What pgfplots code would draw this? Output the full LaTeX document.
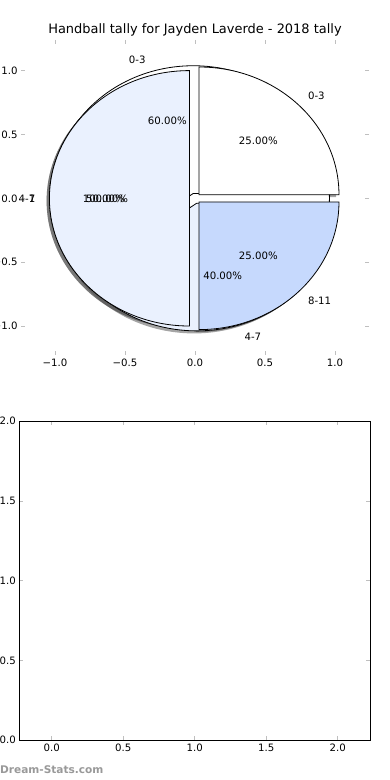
\documentclass[border=0pt]{standalone}
\usepackage{fontspec}
\setmainfont{DejaVu Sans}
\usepackage{pgfplots}
\pgfplotsset{compat=1.18}
\definecolor{pieblue}{HTML}{C6D9FD}
\definecolor{pielight}{HTML}{EAF1FE}
\definecolor{shadowc}{rgb}{0.3,0.3,0.3}
\definecolor{tickc}{HTML}{BFBFBF}
\newcommand{\wedgepath}[4]{(axis cs:#1,#2) -- ++(#3:140bp and 127.7bp) arc[start angle=#3, end angle=#4, x radius=140bp, y radius=127.7bp] -- cycle}
\begin{document}
\begin{tikzpicture}
\useasboundingbox (0,0) rectangle (390bp,780bp);
\clip (0,0) rectangle (390bp,780bp);
\pgfplotsset{
 mpl/.style={
  font=\fontsize{10.2}{12}\selectfont,
  enlargelimits=false,
  tick align=inside,
  major tick length=4bp,
  tick style={draw=tickc, line width=0.8bp},
  /pgf/number format/assume math mode=true,
 }
}
% ---------------- top (pie) axis ----------------
\begin{axis}[mpl, at={(21bp,425bp)}, anchor=south west,
  x=140bp, y=127.7bp,
  xmin=-1.243, xmax=1.243, ymin=-1.227, ymax=1.24,
  axis line style={draw=none}, clip=false,
  xtick={-1,-0.5,0,0.5,1}, xticklabels={−1.0,−0.5,0.0,0.5,1.0},
  ytick={-1,-0.5,0,0.5,1}, yticklabels={−1.0,−0.5,0.0,0.5,1.0}]
% shadows (offset -0.02,-0.02)
\fill[shadowc, opacity=0.5] (axis cs:-0.06,-0.02) ellipse [x radius=140bp, y radius=127.7bp];
\fill[shadowc, opacity=0.5] \wedgepath{-0.03236}{0.01804}{0}{216};
\fill[shadowc, opacity=0.5] \wedgepath{-0.00764}{-0.05804}{216}{360};
\fill[shadowc, opacity=0.5] \wedgepath{0.00828}{0.00828}{0}{90};
\fill[shadowc, opacity=0.5] \wedgepath{0.00828}{-0.04828}{270}{360};
\fill[shadowc, opacity=0.5] \wedgepath{-0.06}{-0.02}{90}{270};
% pie 3: single 100% wedge
\filldraw[fill=white, draw=black, line width=0.8bp] (axis cs:-0.04,0) ellipse [x radius=140bp, y radius=127.7bp];
% pie 2: 60% / 40%
\filldraw[fill=white, draw=black, line width=0.8bp] \wedgepath{-0.01236}{0.03804}{0}{216};
\filldraw[fill=pielight, draw=black, line width=0.8bp] \wedgepath{0.01236}{-0.03804}{216}{360};
% pie 1: 25% / 25% / 50%
\filldraw[fill=white, draw=black, line width=0.8bp] \wedgepath{0.02828}{0.02828}{0}{90};
\filldraw[fill=pieblue, draw=black, line width=0.8bp] \wedgepath{0.02828}{-0.02828}{270}{360};
\filldraw[fill=pielight, draw=black, line width=0.8bp] \wedgepath{-0.04}{0}{90}{270};
% labels pie 3
\node[anchor=east, inner sep=0pt] at (axis cs:-1.14,0) {1};
\node[inner sep=0pt] at (axis cs:-0.64,0) {100.00\%};
% labels pie 2
\node[anchor=east, inner sep=0pt] at (axis cs:-0.3523,1.0842) {0-3};
\node[anchor=west, inner sep=0pt] at (axis cs:0.3523,-1.0842) {4-7};
\node[inner sep=0pt] at (axis cs:-0.1978,0.6087) {60.00\%};
\node[inner sep=0pt] at (axis cs:0.1978,-0.6087) {40.00\%};
% labels pie 1
\node[anchor=west, inner sep=0pt] at (axis cs:0.806,0.806) {0-3};
\node[anchor=west, inner sep=0pt] at (axis cs:0.806,-0.806) {8-11};
\node[anchor=east, inner sep=0pt] at (axis cs:-1.14,0) {4-7};
\node[inner sep=0pt] at (axis cs:0.452,0.452) {25.00\%};
\node[inner sep=0pt] at (axis cs:0.452,-0.452) {25.00\%};
\node[inner sep=0pt] at (axis cs:-0.64,0) {50.00\%};
\end{axis}
% ---------------- bottom (empty) axis ----------------
\begin{axis}[mpl, at={(19.3bp,39.7bp)}, anchor=south west,
  x=143bp, y=159.5bp,
  xmin=-0.2266, xmax=2.226, ymin=0, ymax=2,
  axis line style={draw=black, line width=0.8bp},
  xtick={0,0.5,1,1.5,2}, xticklabels={0.0,0.5,1.0,1.5,2.0},
  ytick={0,0.5,1,1.5,2}, yticklabels={0.0,0.5,1.0,1.5,2.0}]
\addplot[draw=none] coordinates {(0,0)};
\end{axis}
\node[font=\fontsize{13}{15}\selectfont] at (195bp,750bp) {Handball tally for Jayden Laverde - 2018 tally};
\node[anchor=west, inner sep=0pt, text=black!40, font=\bfseries\fontsize{10.6}{12}\selectfont] at (0bp,10bp) {Dream-Stats.com};
\end{tikzpicture}
\end{document}
